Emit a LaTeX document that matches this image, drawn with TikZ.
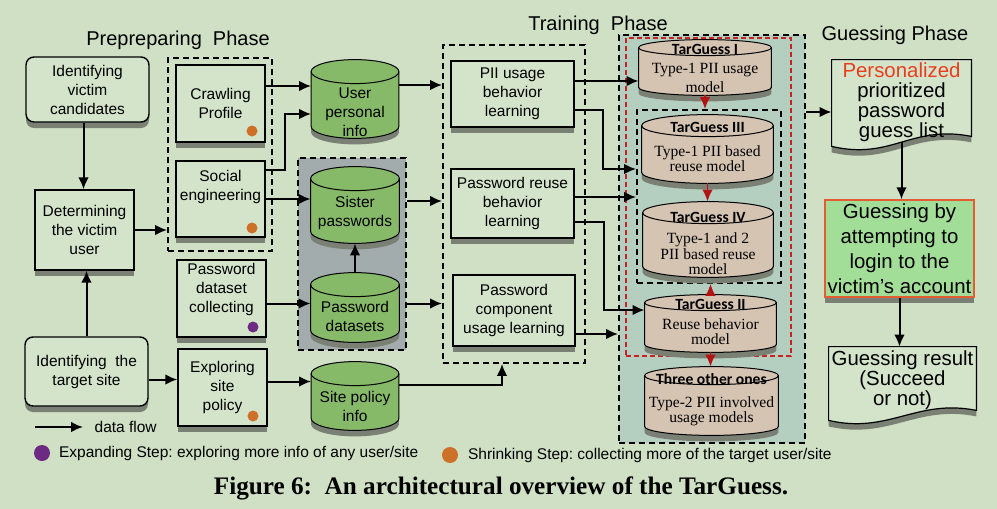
\documentclass[tikz,border=0pt]{standalone}
\usepackage{fontspec}
\setmainfont{Liberation Sans}
\newfontfamily\timesfont{Liberation Serif}
\newfontfamily\calibfont{Carlito}
\usetikzlibrary{calc,shadows,arrows.meta}
\definecolor{bgcol}{RGB}{207,224,197}
\definecolor{boxfill}{RGB}{212,228,203}
\definecolor{shadowgray}{RGB}{122,128,116}
\definecolor{dbgreen}{RGB}{134,186,104}
\definecolor{dbtan}{RGB}{214,196,178}
\definecolor{grpgray}{RGB}{163,172,173}
\definecolor{grpteal}{RGB}{180,206,192}
\definecolor{myred}{RGB}{200,35,35}
\definecolor{arrowred}{RGB}{178,20,20}
\definecolor{dotorange}{RGB}{205,112,42}
\definecolor{dotpurple}{RGB}{108,42,130}
\definecolor{guessgreen}{RGB}{163,222,152}
\definecolor{guessedge}{RGB}{228,92,52}
\definecolor{persred}{RGB}{232,62,30}

\newcommand{\tgtitle}[1]{{\calibfont\bfseries #1}}

% Zylinder um einen leeren Knoten: Name, Farbe, Deckelradius
\newcommand{\drawdb}[3]{%
  \path[fill=shadowgray] let \p1=(#1.north west), \p2=(#1.south east), \n1={(\x2-\x1)/2} in
    (\x1,\y1-#3) -- (\x1,\y2+#3-3pt) arc[start angle=180, end angle=360, x radius=\n1, y radius=#3] -- (\x2,\y1-#3) -- cycle;
  \path[draw, line width=0.5pt, fill=#2] let \p1=(#1.north west), \p2=(#1.south east), \n1={(\x2-\x1)/2} in
    (\x1,\y1-#3) -- (\x1,\y2+#3) arc[start angle=180, end angle=360, x radius=\n1, y radius=#3]
    -- (\x2,\y1-#3) arc[start angle=0, end angle=180, x radius=\n1, y radius=#3] -- cycle;
  \draw[line width=0.5pt] let \p1=(#1.north west), \p2=(#1.south east), \n1={(\x2-\x1)/2} in
    (\x1,\y1-#3) arc[start angle=180, end angle=360, x radius=\n1, y radius=#3];
}
% Dokument mit Wellenkante: Name, Farbe
\newcommand{\drawdoc}[2]{%
  \foreach \dy/\col/\lc in {-3pt/shadowgray/none, 0pt/#2/black} {
    \path[fill=\col, draw=\lc, line width=0.6pt] let \p1=(#1.north west), \p2=(#1.south east) in
      (\x1,\y1+\dy) -- (\x2,\y1+\dy) -- (\x2,\y2+6pt+\dy)
      .. controls (\x2-30pt,\y2+12pt+\dy) and (\x1+30pt,\y2-6pt+\dy) .. (\x1,\y2+1pt+\dy) -- cycle;
  }
}

\tikzset{
  phase/.style={font=\fontsize{10}{12}\selectfont},
  procbox/.style={draw, line width=0.7pt, fill=boxfill, align=center, inner sep=1pt,
    drop shadow={shadow xshift=0pt, shadow yshift=-3pt, fill=shadowgray, opacity=1}},
  roundbox/.style={procbox, rounded corners=4pt},
  stepbox/.style={procbox, minimum width=44.5pt, minimum height=38.5pt},
  learnbox/.style={procbox, minimum width=61.5pt},
  grpbox/.style={draw, dash pattern=on 3pt off 2pt, line width=0.9pt, inner sep=0pt},
  dbnode/.style={inner sep=0pt},
  dbtext/.style={align=center, inner sep=0pt},
  tgtext/.style={align=center, inner sep=0pt, font=\timesfont\fontsize{7.8}{7.75}\selectfont},
  doctext/.style={align=center, inner sep=0pt, font=\fontsize{10.2}{10}\selectfont},
  flow/.style={->, line width=1pt},
  redflow/.style={->, line width=0.9pt, draw=arrowred},
}

\begin{document}
\frenchspacing
\begin{tikzpicture}[x=0.5pt, y=0.5pt, >={Latex[length=6pt,width=5.3pt]}, font=\fontsize{7.75}{9.5}\selectfont]
  % Hintergrund
  \fill[bgcol] (0,0) rectangle (997,-509);
  \useasboundingbox (0,0) rectangle (997,-509);
  % Gruppen
  \node[grpbox, minimum width=52pt, minimum height=96.5pt] (prepgrp) at (220,-154.5) {};
  \node[grpbox, fill=grpgray, minimum width=54pt, minimum height=96pt] (pwgrp) at (352,-254) {};
  \node[grpbox, minimum width=71pt, minimum height=159pt] (train) at (514,-204) {};
  \node[grpbox, fill=grpteal, minimum width=93pt, minimum height=204pt] (tgout) at (712,-239) {};
  \node[grpbox, draw=myred, line width=0.6pt, dash pattern=on 2.5pt off 1.5pt, minimum width=82.5pt, minimum height=159pt] (tgred) at (708.5,-197) {};
  \node[grpbox, minimum width=72pt, minimum height=86.5pt] (tgin) at (709,-196.5) {};

  % Vorbereitung
  \node[roundbox, minimum width=61.5pt, minimum height=32.5pt] (vcand) at (87.5,-89.5) {Identifying\\victim\\candidates};
  \node[procbox, minimum width=49.5pt, minimum height=40pt] (detuser) at (84.5,-230) {Determining\\the victim\\user};
  \node[roundbox, minimum width=61.5pt, minimum height=34.5pt] (tsite) at (86.5,-371.5) {Identifying\ \ the\\target site};
  \node[stepbox] (crawl) at (220.5,-103.5) {Crawling\\Profile};
  \node[stepbox, minimum height=38pt] (social) at (220.5,-199) {Social\\engineering\\[4pt]};
  \node[stepbox] (pwcollect) at (221.5,-298.5) {Password\\dataset\\collecting\\[1pt]};
  \node[stepbox] (explore) at (222.5,-387.5) {Exploring\\site\\policy};
  \foreach \px/\py in {252/131, 252/228, 253/416} \fill[dotorange] (\px,-\py) circle (5.5);
  \fill[dotpurple] (253,-327) circle (5.5);

  % Datenbanken
  \node[dbnode, minimum width=43.5pt, minimum height=39pt] (upinfo) at (355,-99) {};
  \node[dbnode, minimum width=44pt, minimum height=38pt] (sister) at (355,-205) {};
  \node[dbnode, minimum width=44pt, minimum height=34.5pt] (pwdata) at (355,-307.5) {};
  \node[dbnode, minimum width=43.5pt, minimum height=34pt] (policy) at (355,-396) {};
  \foreach \db in {upinfo, sister, pwdata, policy} {\drawdb{\db}{dbgreen}{6pt}}
  \node[dbtext] (upinfo-txt) at (355,-112) {User\\personal\\info};
  \node[dbtext] (sister-txt) at (355,-213) {Sister\\passwords};
  \node[dbtext] (pwdata-txt) at (355,-316.5) {Password\\datasets};
  \node[dbtext] (policy-txt) at (355,-406) {Site policy\\info};

  % Training
  \node[learnbox, minimum height=33pt] (piiuse) at (512.5,-94) {PII usage\\behavior\\learning};
  \node[learnbox, minimum height=34.5pt] (pwreuse) at (512.5,-203.5) {Password reuse\\behavior\\learning};
  \node[learnbox, minimum width=61pt, minimum height=35.5pt] (pwcomp) at (514,-310.5) {Password\\component\\usage learning};

  % Modelle
  \node[dbnode, minimum width=66pt, minimum height=27.5pt] (tg1) at (705,-67.5) {};
  \node[dbnode, minimum width=65.5pt, minimum height=34pt] (tg3) at (707.5,-149) {};
  \node[dbnode, minimum width=65pt, minimum height=37.5pt] (tg4) at (708,-239.5) {};
  \node[dbnode, minimum width=65.5pt, minimum height=28.5pt] (tg2) at (710.5,-323.5) {};
  \node[dbnode, minimum width=66.5pt, minimum height=34pt] (tg5) at (711.5,-401) {};
  \foreach \db/\rr in {tg1/4pt, tg3/5.5pt, tg4/5.5pt, tg2/4pt, tg5/4.5pt} {\drawdb{\db}{dbtan}{\rr}}
  \node[tgtext] (tg1-txt) at (705,-68) {\tgtitle{TarGuess I}\\[1.75pt]Type-1 PII usage\\[1.75pt]model};
  \node[tgtext] (tg3-txt) at (707.5,-147) {\tgtitle{TarGuess III}\\[4.25pt]Type-1 PII based\\reuse model};
  \node[tgtext] (tg4-txt) at (708,-243.5) {\tgtitle{TarGuess IV}\\[2.75pt]Type-1 and 2\\PII based reuse\\model};
  \node[tgtext] (tg2-txt) at (710.5,-322) {\tgtitle{TarGuess II}\\[2.25pt]Reuse behavior\\model};
  \node[tgtext] (tg5-txt) at (711.5,-399.5) {\tgtitle{Three other ones}\\[3.75pt]Type-2 PII involved\\usage models};

  % Raten
  \node[dbnode, minimum width=69.5pt, minimum height=44pt] (guesslist) at (901.5,-104) {};
  \drawdoc{guesslist}{boxfill}
  \node[doctext] (guesslist-txt) at (901.5,-102) {\textcolor{persred}{Personalized}\\prioritized\\password\\guess list};
  \node[procbox, fill=guessgreen, draw=guessedge, font=\fontsize{10.2}{12.5}\selectfont, minimum width=74.5pt, minimum height=48.5pt] (guessbox) at (899.5,-248.5) {Guessing by\\attempting to\\login to the\\victim’s account};
  \node[dbnode, minimum width=73.5pt, minimum height=37.5pt] (result) at (902.5,-384.5) {};
  \drawdoc{result}{boxfill}
  \node[doctext] (result-txt) at (902.5,-380) {Guessing result\\(Succeed\\or not)};

  % Datenfluss
  \draw[flow] ([xshift=-2pt]vcand.south) -- ([xshift=-2pt]vcand.south |- detuser.north);
  \draw[flow] (tsite.north) -- (tsite.north |- detuser.south);
  \draw[flow] (detuser.east) -- (detuser.east -| prepgrp.west);
  \draw[flow] ([yshift=-4pt]tsite.east) -- ([yshift=-4pt]tsite.east -| explore.west);
  \draw[flow] ([yshift=8.75pt]crawl.east) -- ([yshift=8.75pt]crawl.east -| upinfo.west);
  \draw[flow] ([yshift=14.5pt]social.east) -- ++(19,0) |- ([yshift=-7.5pt]upinfo.west);
  \draw[flow] (social.east) -- (social.east -| sister.west);
  \draw[flow] ([yshift=2pt]pwdata.west -| pwcollect.east) -- ([yshift=2pt]pwdata.west);
  \draw[flow] (pwdata.north) -- (sister.south);
  \draw[flow] ([yshift=3pt]explore.east) -- ([yshift=3pt]explore.east -| policy.west);
  \draw[flow] ([yshift=7pt]upinfo.east) -- ([yshift=7pt]upinfo.east -| train.west);
  \draw[flow] ([yshift=2pt]sister.east -| pwgrp.east) -- ([yshift=2pt]sister.east -| train.west);
  \draw[flow] ([yshift=2pt]pwdata.east -| pwgrp.east) -- ([yshift=2pt]pwdata.east -| train.west);
  \draw[flow] ([yshift=5.5pt]policy.east) -| ([xshift=-6pt]train.south);
  \draw[flow] ([yshift=6.5pt]piiuse.east) -- ([yshift=6.5pt]piiuse.east -| tg1.west);
  \draw[flow] ([yshift=-8pt]piiuse.east) -- ++(28,0) |- ([yshift=-10pt]tg3.west -| tgin.west);
  \draw[flow] ([yshift=3.25pt]pwreuse.east) -- ([yshift=3.25pt]pwreuse.east -| tgin.west);
  \draw[flow] ([yshift=-9.25pt]pwreuse.east) -- ++(29,0) |- ([yshift=6.75pt]tg2.west);
  \draw[flow] ([yshift=-11.75pt]pwcomp.east) -- ([yshift=-11.75pt]pwcomp.east -| tgout.west);
  \draw[redflow] (tg1.south) -- (tg1.south |- tgin.north);
  \draw[redflow] (tg3.south) -- (tg3.south |- tg4.north);
  \draw[redflow] (tg2.north) -- (tg2.north |- tgin.south);
  \draw[redflow] (tg2.south) -- (tg2.south |- tg5.north);
  \draw[flow] ([yshift=-4pt]guesslist.west -| tgout.east) -- ([yshift=-4pt]guesslist.west);
  \draw[flow] ([yshift=3pt]guesslist.south) -- (guesslist.south |- guessbox.north);
  \draw[flow] (guessbox.south) -- (guessbox.south |- result.north);

  % Legende
  \coordinate (lgstart) at (35,-427);
  \coordinate (lgend) at (83,-427);
  \draw[flow] (lgstart) -- (lgend) node[right=2pt] (lgflow) {data flow};
  \fill[dotpurple] (42,-453) circle (8);
  \node[anchor=west] (lgexpand) at (52,-453) {Expanding Step: exploring more info of any user/site};
  \fill[dotorange] (450,-455) circle (8);
  \node[anchor=west] (lgshrink) at (461,-455) {Shrinking Step: collecting more of the target user/site};

  % Titel
  \node[phase] (prephase) at (178,-40) {Prepreparing\ \ Phase};
  \node[phase] (trainphase) at (598,-25) {Training\ \ Phase};
  \node[phase] (guessphase) at (895,-35) {Guessing Phase};
  \node[font=\timesfont\bfseries\fontsize{12.6}{15}\selectfont] (caption) at (501,-488) {Figure 6:\ \ An architectural overview of the TarGuess.};
\end{tikzpicture}
\end{document}
